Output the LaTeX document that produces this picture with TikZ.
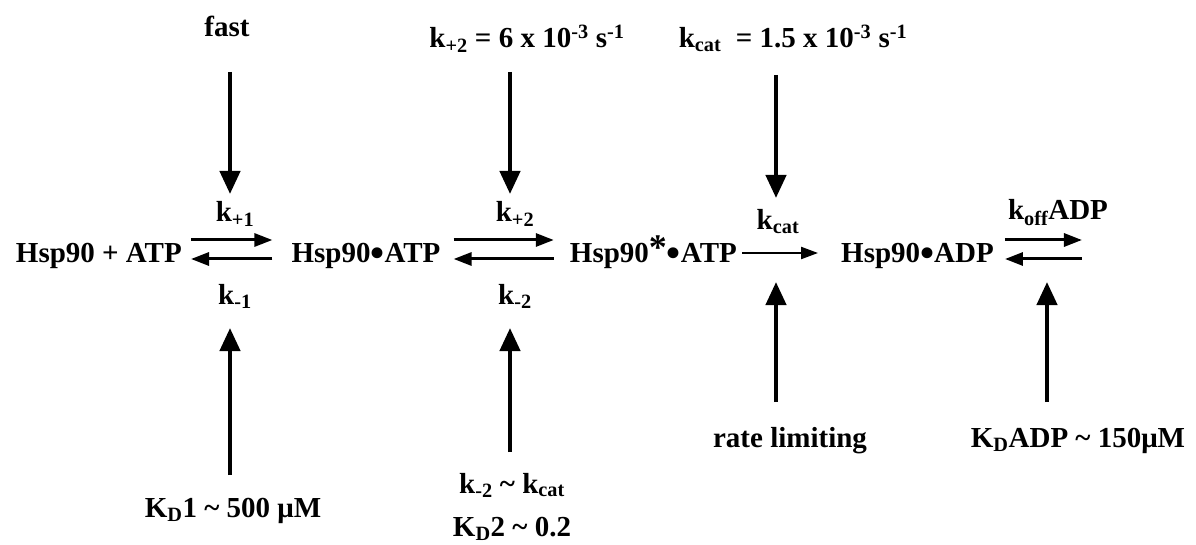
\documentclass[tikz,border=0pt]{standalone}
\usepackage{fontspec}
\setmainfont{Liberation Serif}
\usetikzlibrary{arrows.meta,calc}
\tikzset{
  txt/.style={font=\fontsize{29}{33}\selectfont\bfseries, inner sep=0pt, anchor=base},
  big/.style={line width=4.3pt, -{Triangle[length=23pt,width=20pt]}},
  eq/.style={line width=3pt, -{Triangle[length=18pt,width=13pt]}},
  one/.style={line width=2.2pt, -{Triangle[length=17pt,width=12pt]}}
}
\newcommand{\sub}[1]{\textsubscript{#1}}
\newcommand{\sups}[1]{\textsuperscript{#1}}
\newcommand{\bul}{\raisebox{-4pt}{\fontsize{40}{40}\selectfont •}}
\begin{document}
\begin{tikzpicture}[x=1pt,y=-1pt]
\useasboundingbox (0,0) rectangle (1196,545);
% species
\node[txt, anchor=base east] (s1) at (182,262) {Hsp90 + ATP};
\node[txt] (s2) at (366,262) {Hsp90\bul ATP};
\node[txt, anchor=base east] (s3) at (737,262) {Hsp90\raisebox{2pt}{\fontsize{36}{36}\selectfont *}\bul ATP};
\node[txt, anchor=base west] (s4) at (841,262) {Hsp90\bul ADP};
% rate labels
\node[txt] (kp1) at (235,222) {k\sub{+1}};
\node[txt] (km1) at (235,304) {k\sub{-1}};
\node[txt] (kp2) at (515,222) {k\sub{+2}};
\node[txt] (km2) at (515,304) {k\sub{-2}};
\node[txt] (kcl) at (778,230) {k\sub{cat}};
\node[txt] (koff) at (1058,220) {k\sub{off}ADP};
% top labels
\node[txt] (fast) at (227,37) {fast};
\node[txt] (t2) at (527,48) {k\sub{+2} = 6 x 10\sups{-3} s\sups{-1}};
\node[txt] (t3) at (793,48) {k\sub{cat}~ = 1.5 x 10\sups{-3} s\sups{-1}};
% bottom labels
\node[txt] (b1) at (233,517) {K\sub{D}1 \textasciitilde{} 500 μM};
\node[txt] (b2a) at (512,493) {k\sub{-2} \textasciitilde{} k\sub{cat}};
\node[txt] (b2b) at (512,536) {K\sub{D}2 \textasciitilde{} 0.2};
\node[txt] (b3) at (790,447) {rate limiting};
\node[txt] (b4) at (1078,447) {K\sub{D}ADP \textasciitilde{} 150μM};
% equilibrium arrows
\draw[eq] ($(s1.base east)+(9,-22)$) -- ($(s2.base west)+(-19,-22)$);
\draw[eq] ($(s2.base west)+(-19,-3)$) -- ($(s1.base east)+(9,-3)$);
\draw[eq] ($(s2.base east)+(13,-22)$) -- ($(s3.base west)+(-16,-22)$);
\draw[eq] ($(s3.base west)+(-16,-3)$) -- ($(s2.base east)+(13,-3)$);
\draw[one] ($(s3.base east)+(5,-9)$) -- ($(s4.base west)+(-23,-9)$);
\draw[eq] ($(s4.base east)+(11,-22)$) coordinate (e3a) -- ++(77,0) coordinate (e3b);
\draw[eq] ($(e3b)+(0,19)$) -- ($(e3a)+(0,19)$);
% vertical arrows
\coordinate (f0) at (230,72);   \coordinate (f1) at (230,194);
\coordinate (g0) at (230,475);  \coordinate (g1) at (230,328);
\coordinate (h0) at (510,72);   \coordinate (h1) at (510,194);
\coordinate (i0) at (510,452);  \coordinate (i1) at (510,328);
\coordinate (j0) at (776,75);   \coordinate (j1) at (776,198);
\coordinate (k0) at (776,402);  \coordinate (k1) at (776,282);
\coordinate (l0) at (1047,402); \coordinate (l1) at (1047,282);
\draw[big] (f0) -- (f1);
\draw[big] (g0) -- (g1);
\draw[big] (h0) -- (h1);
\draw[big] (i0) -- (i1);
\draw[big] (j0) -- (j1);
\draw[big] (k0) -- (k1);
\draw[big] (l0) -- (l1);
\end{tikzpicture}
\end{document}
